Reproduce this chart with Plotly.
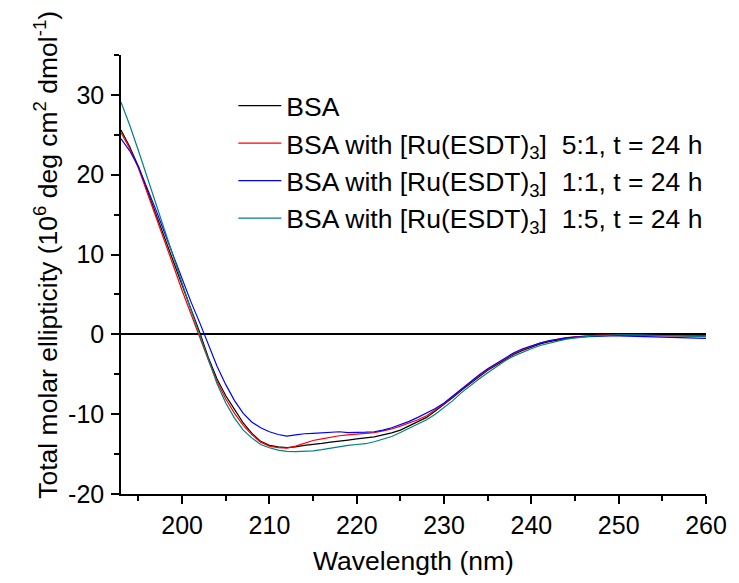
import plotly.graph_objects as go

wavelength = list(range(193, 251)) + [252, 254, 256, 258, 260]

bsa = [25.6, 23.5, 21.0, 18.0, 15.2, 12.2, 9.2, 6.2, 3.2, 0.3,
       -2.9, -5.6, -7.7, -9.4, -11.1, -12.4, -13.4, -13.9, -14.1, -14.2,
       -14.1, -13.9, -13.8, -13.65, -13.5, -13.4, -13.25, -13.1, -13.0, -12.85,
       -12.6, -12.35, -12.0, -11.5, -11.0, -10.4, -9.6, -8.8, -7.9, -7.0,
       -6.1, -5.3, -4.5, -3.8, -3.1, -2.5, -2.0, -1.6, -1.2, -0.9,
       -0.7, -0.5, -0.35, -0.25, -0.15, -0.1, -0.05, 0.0,
       0.0, -0.05, -0.05, -0.1, -0.1]

ru_5_1 = [25.3, 23.3, 20.8, 17.8, 14.8, 11.7, 8.6, 5.5, 2.5, -0.3,
          -3.2, -5.9, -8.1, -9.9, -11.4, -12.6, -13.5, -14.0, -14.2, -14.25,
          -14.0, -13.6, -13.3, -13.1, -12.9, -12.7, -12.6, -12.5, -12.4, -12.3,
          -12.1, -11.85, -11.5, -11.1, -10.7, -10.2, -9.5, -8.7, -7.8, -6.9,
          -6.0, -5.2, -4.4, -3.7, -3.0, -2.4, -1.9, -1.5, -1.1, -0.8,
          -0.6, -0.4, -0.3, -0.2, -0.15, -0.1, -0.1, -0.1,
          -0.1, -0.15, -0.2, -0.2, -0.25]

ru_1_1 = [24.5, 23.0, 21.0, 18.4, 15.6, 12.7, 9.8, 6.9, 4.1, 1.5,
          -1.2, -4.0, -6.3, -8.3, -9.9, -11.0, -11.7, -12.2, -12.55, -12.75,
          -12.6, -12.45, -12.4, -12.35, -12.25, -12.2, -12.3, -12.3, -12.25, -12.2,
          -12.0, -11.7, -11.3, -10.9, -10.4, -9.9, -9.3, -8.6, -7.7, -6.8,
          -5.9, -5.1, -4.3, -3.6, -2.9, -2.3, -1.8, -1.4, -1.1, -0.8,
          -0.6, -0.45, -0.35, -0.3, -0.25, -0.2, -0.2, -0.2,
          -0.25, -0.3, -0.35, -0.4, -0.5]

ru_1_5 = [29.1, 26.2, 23.0, 19.7, 16.2, 12.8, 9.5, 6.3, 3.1, 0.0,
          -3.2, -6.2, -8.6, -10.5, -12.0, -13.0, -13.8, -14.2, -14.5, -14.65,
          -14.7, -14.65, -14.6, -14.45, -14.25, -14.05, -13.9, -13.8, -13.7, -13.45,
          -13.15, -12.8, -12.3, -11.8, -11.2, -10.7, -10.0, -9.2, -8.3, -7.3,
          -6.4, -5.6, -4.8, -4.0, -3.3, -2.7, -2.2, -1.8, -1.4, -1.1,
          -0.85, -0.6, -0.45, -0.3, -0.2, -0.15, -0.1, -0.05,
          -0.05, -0.1, -0.15, -0.2, -0.3]

x_tickvals = [200, 210, 220, 230, 240, 250, 260]
x_ticktext = ["200", "210", "220", "230", "240", "250", "260"]
y_tickvals = [-20, -10, 0, 10, 20, 30]
y_ticktext = ["-20", "-10", "0", "10", "20", "30"]

names = ["BSA",
         "BSA with [Ru(ESDT)<sub>3</sub>] \u00a05:1, t = 24 h",
         "BSA with [Ru(ESDT)<sub>3</sub>] \u00a01:1, t = 24 h",
         "BSA with [Ru(ESDT)<sub>3</sub>] \u00a01:5, t = 24 h"]
series = [bsa, ru_5_1, ru_1_1, ru_1_5]
colors = ["#000000", "#FF0000", "#0000FF", "#008080"]

FONT = "Arial, 'Liberation Sans', sans-serif"
TXT = 26.5
TICK = 25

fig = go.Figure()
for nm, ys, c in zip(names, series, colors):
    fig.add_trace(go.Scatter(x=wavelength, y=ys, mode="lines", name=nm,
                             legendgroup=nm,
                             line=dict(color=c, width=1.2)))

axis_common = dict(showline=True, linecolor="black", linewidth=1.5,
                   ticks="outside", ticklen=8, tickwidth=1.5, tickcolor="black",
                   showgrid=False, mirror=False, tickmode="array",
                   tickfont=dict(size=TICK, color="black", family=FONT))

# page body adds an 8px offset; the figure is sized/margined to compensate
fig.update_layout(
    width=731, height=575, autosize=False,
    margin=dict(l=113, r=27, t=47, b=89),
    paper_bgcolor="white", plot_bgcolor="white",
    font=dict(family=FONT, size=TXT, color="black"),
    xaxis=dict(range=[193, 260], tickvals=x_tickvals, ticktext=x_ticktext,
               zeroline=False,
               minor=dict(dtick=5, tick0=195, ticks="outside", ticklen=5,
                          tickwidth=1.5, tickcolor="black", showgrid=False),
               title=dict(text="Wavelength (nm)", font=dict(size=TXT), standoff=14),
               **axis_common),
    yaxis=dict(range=[-20, 35], tickvals=y_tickvals, ticktext=y_ticktext,
               zeroline=True, zerolinecolor="black", zerolinewidth=1.5,
               ticklabelstandoff=2,
               minor=dict(dtick=5, tick0=5, ticks="outside", ticklen=5,
                          tickwidth=1.5, tickcolor="black", showgrid=False),
               **axis_common),
    legend=dict(x=0.192, y=0.9385, xanchor="left", yanchor="top",
                bgcolor="rgba(0,0,0,0)", font=dict(size=TXT, family=FONT),
                itemwidth=43, tracegroupgap=0),
    showlegend=True,
    annotations=[dict(text="Total molar ellipticity (10<sup>6</sup> deg cm<sup>2</sup> dmol<sup>-1</sup>)",
                      xref="paper", yref="paper", x=(37 - 113) / 591, y=(486 - 247) / 439,
                      xanchor="center", yanchor="middle", textangle=-90, showarrow=False,
                      font=dict(size=TXT, family=FONT, color="black"))],
)

fig.write_html("out.html")
